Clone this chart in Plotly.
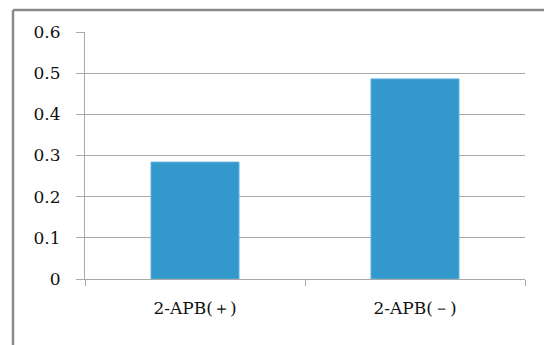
import plotly.graph_objects as go

# Data
categories = ["2-APB(＋)", "2-APB(－)"]
values = [0.284, 0.486]
y_ticks = [0, 0.1, 0.2, 0.3, 0.4, 0.5, 0.6]

W, H = 544, 345
L, R, T, B = 85, 19, 32, 65.5
plot_w = W - L - R
plot_h = H - T - B

def px_x(x):
    return (x - L) / plot_w

def px_y(y):
    return (H - B - y) / plot_h

fig = go.Figure(
    go.Bar(
        x=categories,
        y=values,
        marker=dict(color="#3399cc", line=dict(color="#5fb0dc", width=1)),
        width=0.4,
    )
)

frame_color = "#8a8a8a"
fig.update_layout(
    width=W,
    height=H,
    margin=dict(l=L, r=R, t=T, b=B, pad=0),
    paper_bgcolor="white",
    plot_bgcolor="white",
    showlegend=False,
    font=dict(family="DejaVu Serif, Liberation Serif, serif", size=17, color="#111111"),
    shapes=[
        # outer chart frame (top and left edges)
        dict(type="line", xref="paper", yref="paper",
             x0=px_x(13), x1=px_x(W + 5), y0=px_y(10), y1=px_y(10),
             line=dict(color=frame_color, width=2.5)),
        dict(type="line", xref="paper", yref="paper",
             x0=px_x(13), x1=px_x(13), y0=px_y(10), y1=px_y(H + 5),
             line=dict(color=frame_color, width=2.5)),
    ],
)

fig.update_yaxes(
    range=[0, 0.6],
    tickvals=y_ticks,
    ticktext=[("%g" % v) for v in y_ticks],
    showgrid=True,
    gridcolor="#a8a8a8",
    gridwidth=1.2,
    showline=True,
    linecolor="#a8a8a8",
    linewidth=1.2,
    ticks="outside",
    ticklen=8,
    tickcolor="#a8a8a8",
    ticklabelstandoff=12,
    zeroline=False,
    tickfont=dict(size=17),
)

fig.update_xaxes(
    showline=True,
    linecolor="#a8a8a8",
    linewidth=1.2,
    ticks="outside",
    tickson="boundaries",
    ticklen=6,
    tickcolor="#a8a8a8",
    ticklabelstandoff=13,
    tickfont=dict(size=17),
)

fig.write_html("out.html")
